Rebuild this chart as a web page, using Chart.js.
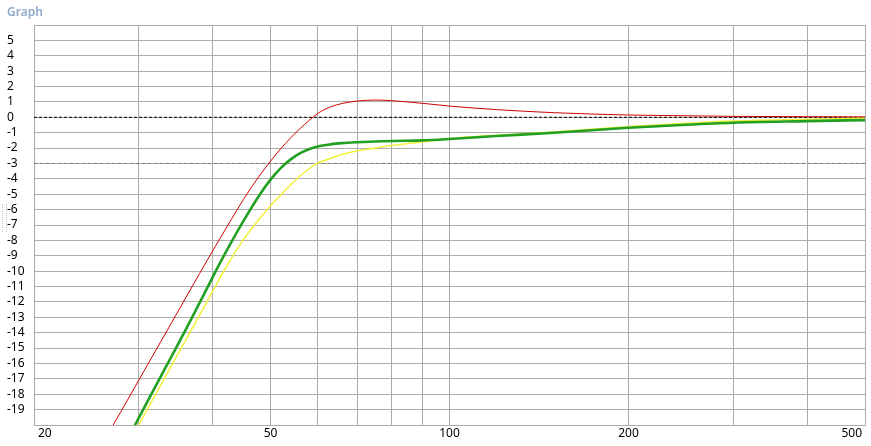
<!DOCTYPE html>
<html>
<head>
<meta charset="utf-8">
<script src="https://cdn.jsdelivr.net/npm/chart.js@4.4.1/dist/chart.umd.min.js"></script>
<style>
  html, body { margin: 0; padding: 0; background: #ffffff; }
  #wrap { position: relative; width: 871px; height: 446px; }
  #title { position: absolute; left: 7px; top: 3px; font: 600 12px "Noto Sans", "Open Sans", sans-serif; color: #8ea8c9; }
  #grip { position: absolute; left: 2px; top: 204px; width: 3px; height: 28px; border-left: 1px dotted #c8c8c8; border-right: 1px dotted #c8c8c8; }
</style>
</head>
<body>
<div id="wrap">
  <canvas id="c" width="871" height="446"></canvas>
  <div id="title">Graph</div>
  <div id="grip"></div>
</div>
<script>
// ---- data ----
const freqs  = [27, 28, 29, 30, 32, 34, 36, 38, 40, 42, 45, 48, 50, 52, 54, 56, 58, 60, 63, 66, 70, 75, 80, 90, 100, 120, 150, 200, 250, 300, 400, 500];
const red    = [-20.2, -19.13, -18.1, -17.1, -15.2, -13.42, -11.73, -10.14, -8.65, -7.27, -5.35, -3.75, -2.85, -2.05, -1.35, -0.75, -0.22, 0.25, 0.67, 0.9, 1.06, 1.12, 1.08, 0.91, 0.73, 0.5, 0.3, 0.15, 0.1, 0.06, 0.04, 0.03];
const green  = [-23.0, -21.8, -20.65, -19.55, -17.5, -15.6, -13.8, -12.05, -10.35, -8.8, -6.75, -5.0, -4.05, -3.3, -2.75, -2.35, -2.08, -1.9, -1.76, -1.68, -1.62, -1.57, -1.54, -1.5, -1.41, -1.22, -1.0, -0.68, -0.48, -0.35, -0.25, -0.18];
const yellow = [-23.3, -22.1, -21.0, -20.0, -18.04, -16.2, -14.48, -12.84, -11.28, -9.8, -7.95, -6.55, -5.75, -5.05, -4.4, -3.83, -3.36, -2.98, -2.68, -2.42, -2.18, -1.99, -1.84, -1.6, -1.38, -1.17, -0.95, -0.6, -0.38, -0.24, -0.12, -0.05];
const refZero  = [0, 0];
const refMinus3 = [-3, -3];
const refFreqs = [20, 500];
const xGridTicks = [20, 30, 40, 50, 60, 70, 80, 90, 100, 200, 300, 400, 500];
const xLabels = [20, 50, 100, 200, 500];
const yMin = -20, yMax = 6;

const pts = (xs, ys) => xs.map((x, i) => ({ x: x, y: ys[i] }));

const xLabelPlugin = {
  id: 'xLabelPlugin',
  afterDraw(chart) {
    const ctx = chart.ctx;
    const xs = chart.scales.x;
    const area = chart.chartArea;
    ctx.save();
    ctx.font = '12px "Noto Sans", "Open Sans", sans-serif';
    ctx.fillStyle = '#000000';
    ctx.textBaseline = 'top';
    xLabels.forEach((v, i) => {
      const px = xs.getPixelForValue(v);
      let align = 'center', off = 0;
      if (i === 0) { align = 'left'; off = 4; }
      else if (i === xLabels.length - 1) { align = 'right'; off = -3; }
      ctx.textAlign = align;
      ctx.fillText(String(v), px + off, area.bottom + 3);
    });
    ctx.restore();
  }
};

new Chart(document.getElementById('c'), {
  type: 'line',
  data: {
    datasets: [
      { label: 'red', data: pts(freqs, red), borderColor: '#d00000', borderWidth: 1, pointRadius: 0, cubicInterpolationMode: 'monotone' },
      { label: 'green', data: pts(freqs, green), borderColor: '#22a022', borderWidth: 2.6, pointRadius: 0, cubicInterpolationMode: 'monotone' },
      { label: 'yellow', data: pts(freqs, yellow), borderColor: '#f2f03a', borderWidth: 1.5, pointRadius: 0, cubicInterpolationMode: 'monotone' },
      { label: 'zero', data: pts(refFreqs, refZero), borderColor: '#000000', borderWidth: 1, borderDash: [3, 2], pointRadius: 0 },
      { label: 'minus3', data: pts(refFreqs, refMinus3), borderColor: '#7a7a7a', borderWidth: 1, borderDash: [3, 3], pointRadius: 0 }
    ]
  },
  options: {
    responsive: false,
    animation: false,
    events: [],
    layout: { padding: { left: 7, right: 6, top: 25, bottom: 0 } },
    plugins: { legend: { display: false }, tooltip: { enabled: false }, title: { display: false } },
    scales: {
      x: {
        type: 'logarithmic',
        min: 20, max: 500,
        afterBuildTicks: (s) => { s.ticks = xGridTicks.map(v => ({ value: v })); },
        afterFit: (s) => { s.height = 21; },
        ticks: { display: true, callback: () => '', autoSkip: false, maxRotation: 0 },
        grid: { color: '#acacac', lineWidth: 1, drawTicks: false },
        border: { color: '#acacac', width: 1 }
      },
      y: {
        min: yMin, max: yMax,
        afterFit: (s) => { s.width = 27; },
        ticks: {
          stepSize: 1, autoSkip: false, crossAlign: 'far', padding: 0,
          color: '#000000',
          font: { family: '"Noto Sans", "Open Sans", sans-serif', size: 12 },
          callback: (v) => (v === yMax || v === yMin) ? '' : String(v)
        },
        grid: { color: '#acacac', lineWidth: 1, drawTicks: false },
        border: { color: '#acacac', width: 1 }
      }
    }
  },
  plugins: [xLabelPlugin]
});
</script>
</body>
</html>
